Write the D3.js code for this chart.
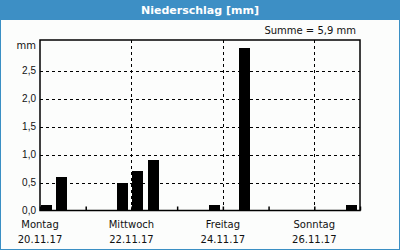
<!DOCTYPE html>
<html>
<head>
<meta charset="utf-8">
<style>
  body { margin: 0; background: #fff; }
  svg { display: block; font-family: "DejaVu Sans", sans-serif; }
  .grid line { stroke: #000; stroke-dasharray: 3,3; shape-rendering: crispEdges; }
  .lbl { font-size: 10px; fill: #111; }
</style>
</head>
<body>
<svg width="400" height="250"></svg>
<script src="https://cdn.jsdelivr.net/npm/d3@7"></script>
<script>
// 8-hour precipitation sums, 20.11.17 00:00 .. 26.11.17 24:00
var precip = [0.1, 0.6, 0, 0, 0, 0.5, 0.7, 0.9, 0, 0, 0, 0.1, 0, 2.9, 0, 0, 0, 0, 0, 0, 0.1];
var dayNames = ["Montag", "Mittwoch", "Freitag", "Sonntag"];
var dayDates = ["20.11.17", "22.11.17", "24.11.17", "26.11.17"];
var yTicks = [0, 0.5, 1.0, 1.5, 2.0, 2.5];
var total = "5,9";

var svg = d3.select("svg"),
    W = 400, H = 250,
    margin = {top: 40, right: 40, bottom: 39.5, left: 40},
    width = W - margin.left - margin.right,
    height = H - margin.top - margin.bottom;

var start = new Date(2017, 10, 20),
    end = new Date(2017, 10, 27),
    binMs = 8 * 3600 * 1000;

var x = d3.scaleTime().domain([start, end]).range([margin.left, margin.left + width]);
var y = d3.scaleLinear().domain([0, 3.05]).range([margin.top + height, margin.top]);
var fmt = function(d) { return d3.format(".1f")(d).replace(".", ","); };

// panel + header
svg.append("rect").attr("x", 0.5).attr("y", 0.5).attr("width", W - 1).attr("height", H - 1)
  .attr("fill", "#fcfdfc").attr("stroke", "#3a8fc4");
svg.append("rect").attr("x", 0).attr("y", 0).attr("width", W).attr("height", 20).attr("fill", "#3d8fc5");
svg.append("text").attr("x", W / 2).attr("y", 14).attr("text-anchor", "middle")
  .style("font-size", "11px").style("font-weight", "bold").attr("fill", "#fff")
  .text("Niederschlag [mm]");

svg.append("text").attr("class", "lbl").attr("x", 356).attr("y", 34).attr("text-anchor", "end")
  .text("Summe = " + total + " mm");

// horizontal grid
svg.append("g").attr("class", "grid")
  .selectAll("line").data(yTicks.filter(function(d) { return d > 0; })).enter().append("line")
  .attr("x1", margin.left).attr("x2", margin.left + width)
  .attr("y1", function(d) { return Math.round(y(d)) + 0.5; })
  .attr("y2", function(d) { return Math.round(y(d)) + 0.5; });

// vertical grid every second day
var labelDays = d3.timeDay.range(start, end, 2);
svg.append("g").attr("class", "grid")
  .selectAll("line").data(labelDays.slice(1)).enter().append("line")
  .attr("x1", function(d) { return Math.round(x(d)) + 0.5; })
  .attr("x2", function(d) { return Math.round(x(d)) + 0.5; })
  .attr("y1", margin.top).attr("y2", margin.top + height);

// bars
var slot = x(new Date(start.getTime() + binMs)) - x(start);
var bins = precip.map(function(v, i) { return {t: new Date(start.getTime() + i * binMs), v: v}; })
  .filter(function(d) { return d.v > 0; });
svg.append("g").selectAll("rect").data(bins).enter().append("rect")
  .attr("x", function(d) { return Math.round(x(d.t)) + 1; })
  .attr("width", Math.round(slot * 0.74))
  .attr("y", function(d) { return Math.round(y(d.v)); })
  .attr("height", function(d) { return y(0) - Math.round(y(d.v)); })
  .attr("fill", "#000");

// frame
svg.append("rect").attr("x", margin.left).attr("y", margin.top)
  .attr("width", width).attr("height", height)
  .attr("fill", "none").attr("stroke", "#000").attr("stroke-width", 1.5);

// y axis labels
var yAxis = d3.axisLeft(y).tickValues(yTicks).tickFormat(fmt).tickSize(0).tickPadding(4);
var gy = svg.append("g").attr("transform", "translate(" + margin.left + ",0)").call(yAxis);
gy.select(".domain").remove();
gy.selectAll("text").attr("class", "lbl").attr("fill", "#111").style("font-family", null).style("font-size", null);
svg.append("text").attr("class", "lbl").attr("x", 36).attr("y", 49).attr("text-anchor", "end").text("mm");

// x axis: small ticks each day, labels every second day
var xAxis = d3.axisBottom(x).ticks(d3.timeDay.every(1)).tickFormat("").tickSizeInner(-4).tickSizeOuter(0);
var gx = svg.append("g").attr("transform", "translate(0," + (margin.top + height) + ")").call(xAxis);
gx.select(".domain").remove();
gx.selectAll("line").attr("stroke", "#000").attr("stroke-width", 1.5);

var xl = svg.append("g").selectAll("g").data(labelDays).enter().append("g")
  .attr("transform", function(d) { return "translate(" + x(d) + ",0)"; });
xl.append("text").attr("class", "lbl").attr("y", 228).attr("text-anchor", "middle")
  .text(function(d, i) { return dayNames[i]; });
xl.append("text").attr("class", "lbl").attr("y", 243).attr("text-anchor", "middle")
  .text(function(d, i) { return dayDates[i]; });
</script>
</body>
</html>
